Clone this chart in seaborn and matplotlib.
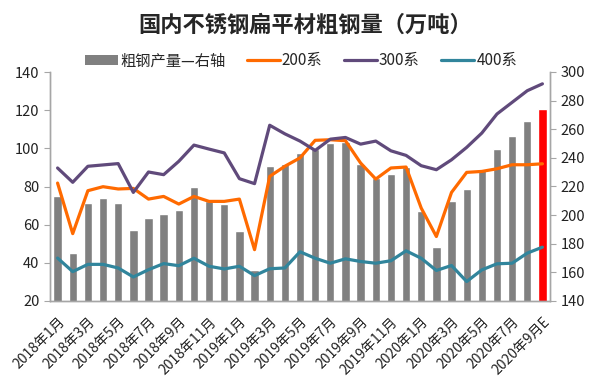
import matplotlib
matplotlib.use("Agg")
import matplotlib.pyplot as plt
import seaborn as sns
import pandas as pd
from matplotlib.patches import Patch
from matplotlib.lines import Line2D
from matplotlib.ticker import FixedLocator

sns.set_style("white")
plt.rcParams['font.family'] = ['Noto Sans CJK SC', 'DejaVu Sans']

months = [f"{y}年{m}月" for y in (2018, 2019, 2020) for m in range(1, 13)][:33]
months[-1] = "2020年9月E"

crude = [213.7, 173.2, 208.5, 212.0, 208.5, 189.6, 198.3, 200.8, 203.3, 219.6, 209.9,
         207.6, 189.0, 162.0, 234.3, 236.0, 243.5, 246.4, 250.3, 251.0, 235.7, 225.9,
         228.7, 233.3, 203.0, 177.9, 209.8, 218.4, 231.7, 246.2, 255.2, 265.7, 274.4]
s200 = [81.8, 55.3, 77.8, 79.9, 78.7, 79.0, 73.4, 74.8, 70.8, 74.8, 72.2, 72.2, 73.4,
        46.9, 85.3, 90.6, 95.0, 104.2, 104.5, 104.0, 92.3, 83.9, 89.7, 90.2, 68.7, 53.8,
        76.9, 87.4, 87.9, 89.3, 91.4, 91.4, 91.9]
s300 = [89.7, 82.2, 90.6, 91.3, 92.0, 76.9, 87.6, 86.2, 93.2, 101.7, 99.6, 97.6, 84.1,
        81.5, 112.1, 107.6, 103.8, 98.9, 104.8, 105.7, 102.2, 103.8, 98.7, 96.3, 90.9,
        88.8, 94.0, 100.5, 108.0, 118.0, 124.1, 130.2, 133.8]
s400 = [42.5, 35.4, 39.2, 39.2, 37.3, 32.6, 36.4, 39.6, 38.5, 42.4, 38.2, 36.8, 38.2,
        33.3, 36.9, 37.3, 45.8, 42.4, 39.8, 42.1, 40.7, 39.8, 41.1, 46.3, 42.4, 36.0,
        38.6, 30.2, 36.3, 39.5, 39.8, 45.1, 48.2]

title = "国内不锈钢扁平材粗钢量（万吨）"
legend_labels = ["粗钢产量—右轴", "200系", "300系", "400系"]

GRAY = "#808080"
RED = "#FF0000"
ORANGE = "#FF6A00"
PURPLE = "#604A7B"
TEAL = "#31859C"
SPINE = "#A6A6A6"

df = pd.DataFrame({"month": months, "crude": crude, "s200": s200, "s300": s300,
                   "s400": s400, "idx": range(len(months))})

fig = plt.figure(figsize=(5.96, 3.88), dpi=100)
ax = fig.add_axes([50/596, 1-301/388, 500/596, 229/388])
ax2 = ax.twinx()

bar_colors = [GRAY] * (len(months) - 1) + [RED]
sns.barplot(data=df, x="idx", y="crude", hue="idx", palette=bar_colors, legend=False,
            width=0.55, ax=ax2, saturation=1, native_scale=True)

for col, c in (("s200", ORANGE), ("s300", PURPLE), ("s400", TEAL)):
    sns.lineplot(data=df, x="idx", y=col, color=c, linewidth=2.3, ax=ax)

ax.set_zorder(ax2.get_zorder() + 1)
ax.patch.set_visible(False)

for a in (ax, ax2):
    a.set_xlim(-0.5, len(months) - 0.5)
    a.set_xlabel("")
    a.set_ylabel("")
ax.set_ylim(20, 140)
ax.set_yticks(range(20, 141, 20))
ax2.set_ylim(140, 300)
ax2.set_yticks(range(140, 301, 20))

ax.set_xticks(range(0, len(months), 2))
ax.set_xticklabels(months[::2], rotation=45, ha="right", rotation_mode="anchor",
                   fontsize=10, color="#222222")
ax.xaxis.set_minor_locator(FixedLocator([i - 0.5 for i in range(len(months) + 1)]))
ax.tick_params(axis="x", which="major", length=0, pad=10)
ax.tick_params(axis="x", which="minor", length=4, color=SPINE, direction="out")
ax2.tick_params(axis="x", which="both", length=0, labelbottom=False)
ax.tick_params(axis="y", length=4, color=SPINE, labelsize=10.5, labelcolor="#222222", direction="out")
ax2.tick_params(axis="y", length=4, color=SPINE, labelsize=10.5, labelcolor="#222222", direction="out")

for a in (ax, ax2):
    a.spines["top"].set_visible(False)
    for s in ("left", "right", "bottom"):
        a.spines[s].set_color(SPINE)
        a.spines[s].set_linewidth(1)

fig.text(305/596, 1 - 25/388, title, ha="center", va="center", fontsize=16, fontweight="bold")

handles = [Patch(facecolor=GRAY, edgecolor="none"),
           Line2D([], [], color=ORANGE, linewidth=2.3),
           Line2D([], [], color=PURPLE, linewidth=2.3),
           Line2D([], [], color=TEAL, linewidth=2.3)]
fig.legend(handles, legend_labels, loc="center", bbox_to_anchor=(301/596, 1 - 61/388),
           ncol=4, frameon=False, fontsize=11, handlelength=2.15, handletextpad=0.15,
           columnspacing=1.4, handleheight=0.6)

fig.savefig("out.png", dpi=100)
